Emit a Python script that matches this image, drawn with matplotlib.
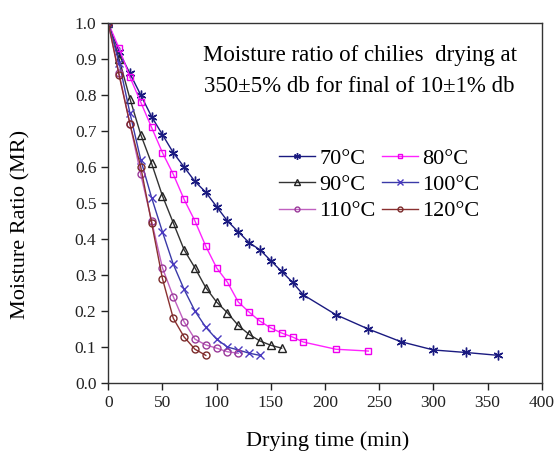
import matplotlib
matplotlib.use("Agg")
import matplotlib.pyplot as plt
import numpy as np

plt.rcParams['font.family'] = ['Liberation Serif', 'DejaVu Serif']

t70 = [0,10,20,30,40,50,60,70,80,90,100,110,120,130,140,150,160,170,180,210,240,270,300,330,360]
mr70 = [1.0,0.92,0.86,0.80,0.74,0.69,0.64,0.60,0.56,0.53,0.49,0.45,0.42,0.39,0.37,0.34,0.31,0.28,0.245,0.19,0.15,0.115,0.092,0.085,0.077]

t80 = [0,10,20,30,40,50,60,70,80,90,100,110,120,130,140,150,160,170,180,210,240]
mr80 = [1.0,0.93,0.85,0.78,0.71,0.64,0.58,0.51,0.45,0.38,0.32,0.28,0.225,0.197,0.172,0.153,0.139,0.128,0.114,0.094,0.089]

t90 = [0,10,20,30,40,50,60,70,80,90,100,110,120,130,140,150,160]
mr90 = [1.0,0.90,0.79,0.69,0.61,0.52,0.445,0.37,0.32,0.265,0.225,0.195,0.16,0.135,0.117,0.105,0.097]

t100 = [0,10,20,30,40,50,60,70,80,90,100,110,120,130,140]
mr100 = [1.0,0.89,0.75,0.62,0.515,0.42,0.33,0.26,0.20,0.155,0.122,0.10,0.092,0.083,0.077]

t110 = [0,10,20,30,40,50,60,70,80,90,100,110,120]
mr110 = [1.0,0.86,0.72,0.58,0.45,0.32,0.24,0.17,0.122,0.106,0.097,0.087,0.083]

t120 = [0,10,20,30,40,50,60,70,80,90]
mr120 = [1.0,0.855,0.72,0.60,0.445,0.29,0.18,0.128,0.094,0.077]

labels = ['70°C', '80°C', '90°C', '100°C', '110°C', '120°C']

fig = plt.figure(figsize=(5.58, 4.61), dpi=100)
ax = fig.add_axes([0.194, 0.169, 0.777, 0.781])

ast = (6, 2, 0)
h = []
h += ax.plot(t70, mr70, color='#1a1a80', lw=1.0, marker=ast, ms=7, mew=1.0, mec='#1a1a80', label=labels[0])
h += ax.plot(t80, mr80, color='#ff22ff', lw=1.0, marker='s', ms=5, mfc='none', mew=1.0, mec='#ee00ee', label=labels[1])
h += ax.plot(t90, mr90, color='#333333', lw=1.0, marker='^', ms=5.5, mfc='none', mew=1.0, mec='#222222', label=labels[2])
h += ax.plot(t100, mr100, color='#3a3aa8', lw=1.0, marker='x', ms=5.5, mew=1.0, mec='#4a3ac0', label=labels[3])
h += ax.plot(t110, mr110, color='#c060c0', lw=1.0, marker='o', ms=5, mfc='none', mew=1.0, mec='#9a3a9a', label=labels[4])
h += ax.plot(t120, mr120, color='#8a3030', lw=1.0, marker='o', ms=5, mfc='none', mew=1.0, mec='#7a2a2a', label=labels[5])

ax.set_xlim(0, 400)
ax.set_ylim(0, 1.0)
ax.set_xticks(np.arange(0, 401, 50))
ax.set_yticks(np.arange(0, 1.01, 0.1))
ax.yaxis.set_major_formatter(matplotlib.ticker.FormatStrFormatter('%.1f'))
ax.tick_params(direction='out', length=5, width=1, labelsize=12.5, colors='#222222')
for s in ax.spines.values():
    s.set_linewidth(1.0)
    s.set_color('#333333')

ax.set_xlabel('Drying time (min)', fontsize=16)
ax.set_ylabel('Moisture Ratio (MR)', fontsize=16)
ax.xaxis.set_label_coords(0.505, -0.133)
ax.yaxis.set_label_coords(-0.18, 0.44)

ax.text(0.58, 0.911, 'Moisture ratio of chilies  drying at', transform=ax.transAxes,
        fontsize=16.5, ha='center', va='center')
ax.text(0.58, 0.825, '350±5% db for final of 10±1% db', transform=ax.transAxes,
        fontsize=16.5, ha='center', va='center')

order = [0, 2, 4, 1, 3, 5]
leg = ax.legend([h[i] for i in order], [labels[i] for i in order], ncol=2,
                loc='upper left', bbox_to_anchor=(0.348, 0.707), frameon=False,
                fontsize=16, handlelength=1.6, handletextpad=0.2, columnspacing=0.3,
                labelspacing=0.25, markerscale=0.7)

fig.savefig('out.png', dpi=100)
